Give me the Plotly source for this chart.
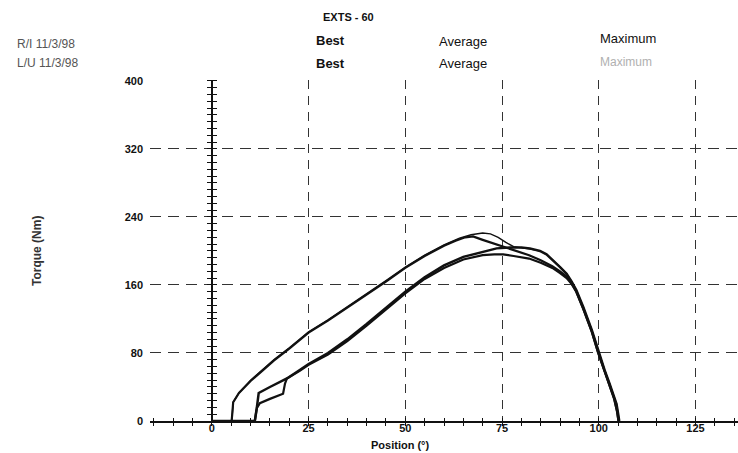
import plotly.graph_objects as go

# ---------------- data ----------------
x_ticks = [0, 25, 50, 75, 100, 125]
y_ticks = [0, 80, 160, 240, 320, 400]

# Right / Best (thin outer curve)
pos_u1 = [0, 5.1, 5.3, 5.5, 7, 10, 13, 16, 20, 25, 30, 35, 40, 45, 50, 55, 60, 64, 67, 70, 72, 74, 76, 78,
          81, 84.8, 86.5, 88.2, 90, 91.7, 93, 94.2, 96, 98.2, 99.8, 101.5, 102.8, 104, 104.6, 105, 105.3]
tq_u1 = [0, 0, 10, 22, 33, 48, 60, 72, 86, 105, 119, 134, 149, 165, 181, 195, 207, 215, 219, 221, 220, 216, 210, 205,
         203, 200, 196, 189, 181, 173, 164, 154, 134, 107, 83, 60, 44, 28, 20, 9, 0]

# Right / Average
pos_u2 = [0, 5.1, 5.3, 5.5, 7, 10, 13, 16, 20, 25, 30, 35, 40, 45, 50, 55, 60, 63, 65.5, 67.5, 70, 72, 75, 78,
          82, 85, 88, 90, 91.7, 93, 94.2, 96, 98.2, 99.8, 101.5, 102.8, 104, 104.8, 105.1]
tq_u2 = [0, 0, 10, 22, 33, 47, 59, 71, 85, 104, 118, 133, 148, 164, 180, 194, 206, 212, 216, 217, 213, 210, 206, 201,
         195, 189, 182, 176, 170, 162, 152, 132, 105, 81, 58, 42, 26, 10, 0]

# Left / Best
pos_l1 = [0, 11.1, 11.6, 12.1, 15, 18.3, 19.4, 22.7, 25, 30, 35, 40, 45, 50, 55, 60, 65, 70, 73.6, 77, 80, 82.2,
          84.8, 86.5, 88.2, 90, 91.7, 93, 94.2, 96, 98.2, 99.8, 101.5, 102.8, 104, 104.6, 105, 105.3]
tq_l1 = [0, 0, 15, 33, 40, 47, 50, 60, 67, 80, 96, 114, 133, 152, 169, 183, 193, 199, 203, 204, 204, 203,
         200, 196, 189, 181, 173, 164, 154, 134, 107, 83, 60, 44, 28, 20, 9, 0]

# Left / Average
pos_l2 = [0, 11.1, 11.6, 12.4, 15, 18.4, 18.9, 19.4, 22.7, 25, 30, 35, 40, 45, 50, 55, 60, 65, 70, 73, 75.3, 78,
          82, 85, 88, 90, 91.7, 93, 94.2, 96, 98.2, 99.8, 101.5, 102.8, 104, 104.7, 105.1]
tq_l2 = [0, 0, 15, 21, 26, 32, 44, 50, 59, 66, 78, 94, 112, 131, 150, 167, 180, 190, 195, 196, 196, 194,
         191, 186, 180, 174, 168, 161, 152, 132, 105, 81, 58, 42, 26, 12, 0]

X_MIN, X_MAX = -16, 136
Y_MIN, Y_MAX = 0, 401

# ---------------- figure ----------------
W, H = 738, 453
ML, MR, MT, MB = 150, 0, 80, 32
PW, PH = W - ML - MR, H - MT - MB


def px(xp):
    return (xp - ML) / PW


def py(yp):
    return (H - MB - yp) / PH


FONT = "Liberation Sans, Arial, sans-serif"
INK = "#111111"

fig = go.Figure()
series = [
    (pos_u1, tq_u1, 1.4),
    (pos_u2, tq_u2, 2.2),
    (pos_l1, tq_l1, 2.5),
    (pos_l2, tq_l2, 2.2),
]
for xs, ys, w in series:
    fig.add_trace(go.Scatter(x=xs, y=ys, mode="lines", line=dict(color=INK, width=w),
                             showlegend=False, hoverinfo="skip"))

# dummy traces so the extra tick axes are drawn
fig.add_trace(go.Scatter(x=[None], y=[None], xaxis="x2", yaxis="y", showlegend=False, hoverinfo="skip"))
fig.add_trace(go.Scatter(x=[None], y=[None], xaxis="x", yaxis="y2", showlegend=False, hoverinfo="skip"))
fig.add_trace(go.Scatter(x=[None], y=[None], xaxis="x", yaxis="y3", showlegend=False, hoverinfo="skip"))

zero_pos = (0 - X_MIN) / (X_MAX - X_MIN)

fig.update_layout(
    width=W, height=H,
    margin=dict(l=ML, r=MR, t=MT, b=MB),
    paper_bgcolor="white", plot_bgcolor="white",
    font=dict(family=FONT, color=INK),
    xaxis=dict(
        range=[X_MIN, X_MAX], domain=[0, 1],
        tickmode="array", tickvals=x_ticks, ticktext=[str(v) for v in x_ticks],
        ticks="outside", ticklen=3, tickwidth=1.2, tickcolor=INK,
        minor=dict(dtick=5, tick0=0, ticks="outside", ticklen=3, tickwidth=1.2, tickcolor=INK, showgrid=False),
        showline=True, linecolor=INK, linewidth=1.5,
        showgrid=True, gridcolor="#333333", gridwidth=1, griddash="9px,7px",
        zeroline=False, ticklabelstandoff=-7,
        tickfont=dict(size=11, family=FONT, color=INK, weight="bold"),
    ),
    xaxis2=dict(
        range=[X_MIN, X_MAX], overlaying="x", anchor="y", side="bottom",
        tickmode="linear", tick0=0, dtick=5,
        ticks="inside", ticklen=3, tickwidth=1.2, tickcolor=INK,
        showticklabels=False, showgrid=False, showline=False, zeroline=False,
    ),
    yaxis=dict(
        range=[Y_MIN, Y_MAX], domain=[0, 1],
        tickmode="array", tickvals=y_ticks, ticktext=[str(v) for v in y_ticks],
        ticks="", ticklabelstandoff=6,
        showline=False, zeroline=False,
        showgrid=True, gridcolor="#333333", gridwidth=1, griddash="11px,7px",
        tickfont=dict(size=11, family=FONT, color=INK, weight="bold"),
    ),
    yaxis2=dict(
        range=[Y_MIN, Y_MAX], overlaying="y", anchor="free", position=zero_pos, side="left",
        tickmode="linear", tick0=0, dtick=8,
        ticks="outside", ticklen=4, tickwidth=1.2, tickcolor=INK,
        showline=True, linecolor=INK, linewidth=1.5,
        showticklabels=False, showgrid=False, zeroline=False,
    ),
    yaxis3=dict(
        range=[Y_MIN, Y_MAX], overlaying="y", anchor="free", position=zero_pos, side="right",
        tickmode="linear", tick0=0, dtick=8,
        ticks="outside", ticklen=4, tickwidth=1.2, tickcolor=INK,
        showline=False,
        showticklabels=False, showgrid=False, zeroline=False,
    ),
)

annots = [
    ("EXTS - 60", 348, 17, 11, "bold", INK, "center"),
    ("R/I 11/3/98", 15, 44, 12, "normal", "#555555", "left"),
    ("L/U 11/3/98", 15, 63, 12, "normal", "#555555", "left"),
    ("Best", 314, 40, 13, "bold", INK, "left"),
    ("Best", 314, 63, 13, "bold", INK, "left"),
    ("Average", 437, 41, 13, "normal", INK, "left"),
    ("Average", 437, 63, 13, "normal", INK, "left"),
    ("Maximum", 598, 38, 13, "normal", INK, "left"),
    ("Maximum", 598, 62, 12, "normal", "#b0b0b0", "left"),
    ("Position (°)", 400, 445, 11, "bold", INK, "center"),
]
for text, xp, yp, size, weight, color, anchor in annots:
    fig.add_annotation(text=text, xref="paper", yref="paper", x=px(xp), y=py(yp),
                       xanchor=anchor, yanchor="middle", showarrow=False,
                       font=dict(size=size, family=FONT, color=color, weight=weight))

fig.add_annotation(text="Torque (Nm)", xref="paper", yref="paper", x=px(37), y=py(251),
                   xanchor="center", yanchor="middle", textangle=-90, showarrow=False,
                   font=dict(size=12, family=FONT, color="#333333", weight="bold"))

fig.write_html(
    "out.html",
    config={"displayModeBar": False},
    post_script="document.body.style.margin='0';document.body.style.overflow='hidden';",
)
